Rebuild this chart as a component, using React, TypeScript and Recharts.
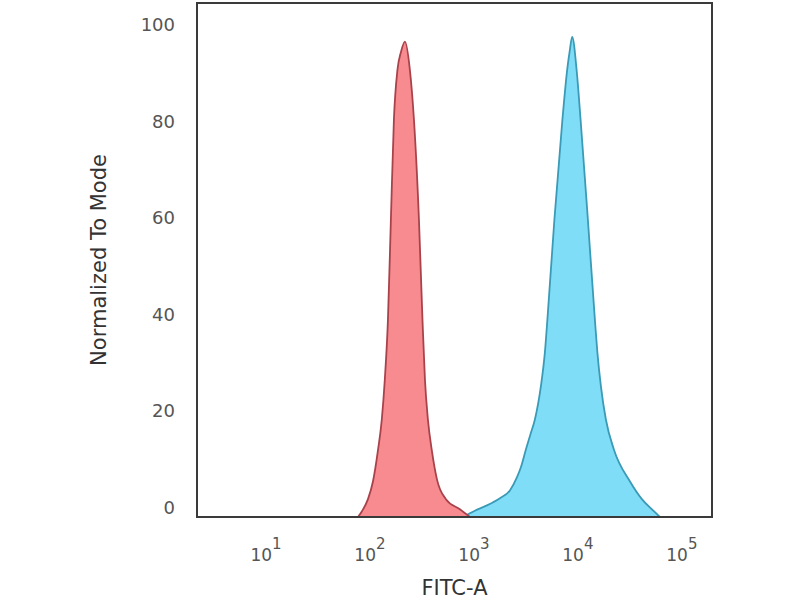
import React from 'react';
import { ComposedChart, Area, XAxis, YAxis, ReferenceArea } from 'recharts';

// FITC-A intensity (log scale) and % of mode
const isotypeFitc = [76.7, 83.8, 95.7, 107, 119, 130, 139, 149, 159, 170, 184, 199, 217, 242, 265, 296, 320, 338, 361, 395, 441, 538, 733, 915];
const isotypeMode = [-2, -0.8, 1.7, 5.4, 11.6, 18.2, 26.5, 38.9, 59.6, 80.3, 90.7, 94.4, 96.5, 90.7, 80.3, 59.6, 38.9, 26.5, 18.2, 11.6, 5.8, 1.7, -0.4, -2];

const stainedFitc = [784, 1000, 1334, 1778, 2219, 2591, 2830, 3162, 3494, 3859, 4408, 4815, 5090, 5943, 7096, 7893, 8375, 8814, 9716, 10617, 12480, 14571, 15400, 16645, 18590, 22190, 31620, 41260, 53800, 61440];
const stainedMode = [-2, -0.8, 0.4, 1.9, 3.5, 6.2, 8.3, 12.0, 15.1, 18.2, 25.1, 32.1, 38.9, 59.6, 80.3, 90.7, 94.8, 97.5, 90.7, 80.3, 59.6, 38.9, 32.1, 25.1, 18.2, 12.0, 5.4, 1.7, -0.8, -2];

const xTicks = [10, 100, 1000, 10000, 100000];
const yTicks = [0, 20, 40, 60, 80, 100];

const toRows = (xs: number[], ys: number[]) => xs.map((x, i) => ({ fitc: x, mode: ys[i] }));

const isotype = toRows(isotypeFitc, isotypeMode);
const stained = toRows(stainedFitc, stainedMode);

const xDomain: [number, number] = [2.17, 195000];
const yDomain: [number, number] = [-2, 104.5];

const PowerTick = (props: any) => {
  const { x, y, payload } = props;
  const exp = Math.round(Math.log10(payload.value));
  return (
    <g transform={`translate(${x},${y})`}>
      <text textAnchor="middle" y={36} fill="#555" fontFamily="DejaVu Sans" fontSize={17}>
        <tspan>10</tspan>
        <tspan dy={-12} fontSize={15}>{exp}</tspan>
      </text>
    </g>
  );
};

export default function App() {
  return (
    <div style={{ position: 'absolute', left: 0, top: 0, background: '#fff' }}>
      <ComposedChart width={800} height={600} margin={{ top: 3, right: 88, bottom: 0, left: 0 }}>
        <XAxis
          xAxisId="x"
          dataKey="fitc"
          type="number"
          scale="log"
          domain={xDomain}
          allowDataOverflow
          ticks={xTicks}
          tick={<PowerTick />}
          tickLine={false}
          axisLine={{ stroke: '#3a3a3a', strokeWidth: 2 }}
          height={83}
          label={{ value: 'FITC-A', position: 'insideBottom', offset: 5, fill: '#333', fontSize: 21, fontFamily: 'DejaVu Sans' }}
        />
        <YAxis
          yAxisId="y"
          type="number"
          domain={yDomain}
          allowDataOverflow
          ticks={yTicks}
          tickLine={false}
          tickMargin={16}
          width={197}
          tick={{ fill: '#555', fontSize: 18, fontFamily: 'DejaVu Sans' }}
          axisLine={{ stroke: '#3a3a3a', strokeWidth: 2 }}
          label={{
            value: 'Normalized To Mode',
            angle: -90,
            position: 'insideLeft',
            offset: 99,
            fill: '#333',
            fontSize: 21,
            fontFamily: 'DejaVu Sans',
            style: { textAnchor: 'middle' },
          }}
        />
        <Area
          xAxisId="x"
          yAxisId="y"
          data={stained}
          dataKey="mode"
          type="monotone"
          baseValue="dataMin"
          fill="#80ddf7"
          fillOpacity={1}
          stroke="#3b9ab6"
          strokeWidth={1.8}
          isAnimationActive={false}
        />
        <Area
          xAxisId="x"
          yAxisId="y"
          data={isotype}
          dataKey="mode"
          type="monotone"
          baseValue="dataMin"
          fill="#f88b90"
          fillOpacity={1}
          stroke="#a8434c"
          strokeWidth={1.8}
          isAnimationActive={false}
        />
        <ReferenceArea
          xAxisId="x"
          yAxisId="y"
          x1={xDomain[0]}
          x2={xDomain[1]}
          y1={yDomain[0]}
          y2={yDomain[1]}
          fill="none"
          stroke="#3a3a3a"
          strokeWidth={2}
          ifOverflow="visible"
        />
      </ComposedChart>
    </div>
  );
}
